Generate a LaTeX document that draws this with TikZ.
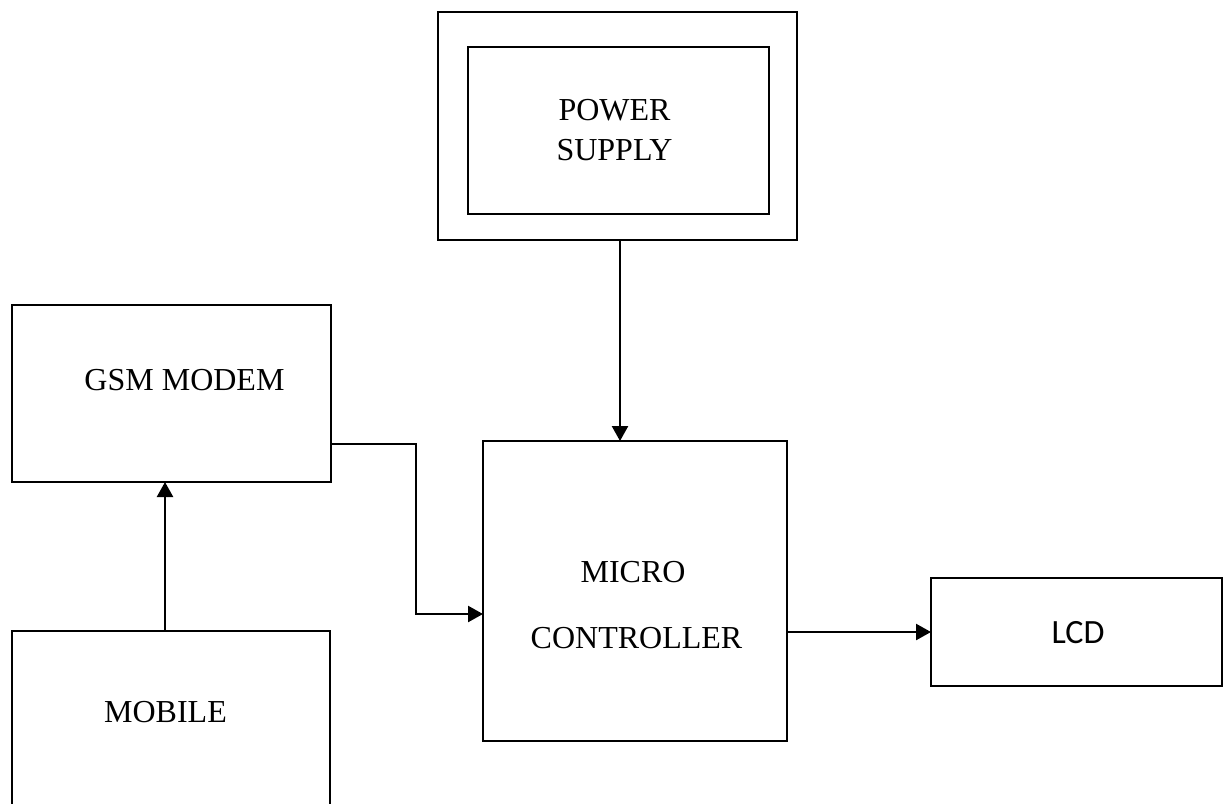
\documentclass[tikz,border=0pt]{standalone}
\usepackage{fontspec}
\setmainfont{Liberation Serif}
\newfontfamily\lcdfont{Carlito}
\usetikzlibrary{arrows.meta}
\begin{document}
\begin{tikzpicture}[x=0.5pt,y=-0.5pt,
 box/.style={draw,line width=1.2pt,inner sep=0pt,outer sep=0pt},
 lbl/.style={inner sep=0pt,font=\fontsize{16}{20}\selectfont,align=center},
 arr/.style={line width=1.2pt,-{Triangle[length=7.5pt,width=8pt]}}]
\useasboundingbox (0,0) rectangle (1224,803);
\clip (0,0) rectangle (1224,803);
\node[box,minimum width=179.5pt,minimum height=114pt] (outer) at (617.5,126) {};
\node[box,minimum width=150.5pt,minimum height=83.5pt] (inner) at (618.5,130.5) {};
\node[box,minimum width=159.5pt,minimum height=88.5pt] (gsm) at (171.5,393.5) {};
\node[box,minimum width=159pt,minimum height=99.5pt] (mob) at (171,730.5) {};
\node[box,minimum width=152pt,minimum height=150pt] (micro) at (635,591) {};
\node[box,minimum width=145.5pt,minimum height=54pt] (lcd) at (1076.5,632) {};
\node[lbl] (pwrlbl) at (614.5,130) {POWER\\SUPPLY};
\node[lbl] (gsmlbl) at (184.5,380) {GSM MODEM};
\node[lbl] (moblbl) at (165.5,712) {MOBILE};
\node[lbl] (microlbl) at (633,572) {MICRO};
\node[lbl] (ctrllbl) at (636.5,638) {CONTROLLER};
\node[inner sep=0pt,font=\lcdfont\fontsize{17}{20}\selectfont] (lcdlbl) at (1078,633) {LCD};
\coordinate (pwrx) at (620,0);
\coordinate (mobx) at (165,0);
\coordinate (gsmy) at (0,444);
\coordinate (bendx) at (416,0);
\coordinate (iny) at (0,614);
\draw[arr] (outer.south -| pwrx) -- (micro.north -| pwrx);
\draw[arr] (mob.north -| mobx) -- (gsm.south -| mobx);
\draw[arr] (gsm.east |- gsmy) -| (bendx |- iny) -- (micro.west |- iny);
\draw[arr] (micro.east |- lcd.west) -- (lcd.west);
\end{tikzpicture}
\end{document}
